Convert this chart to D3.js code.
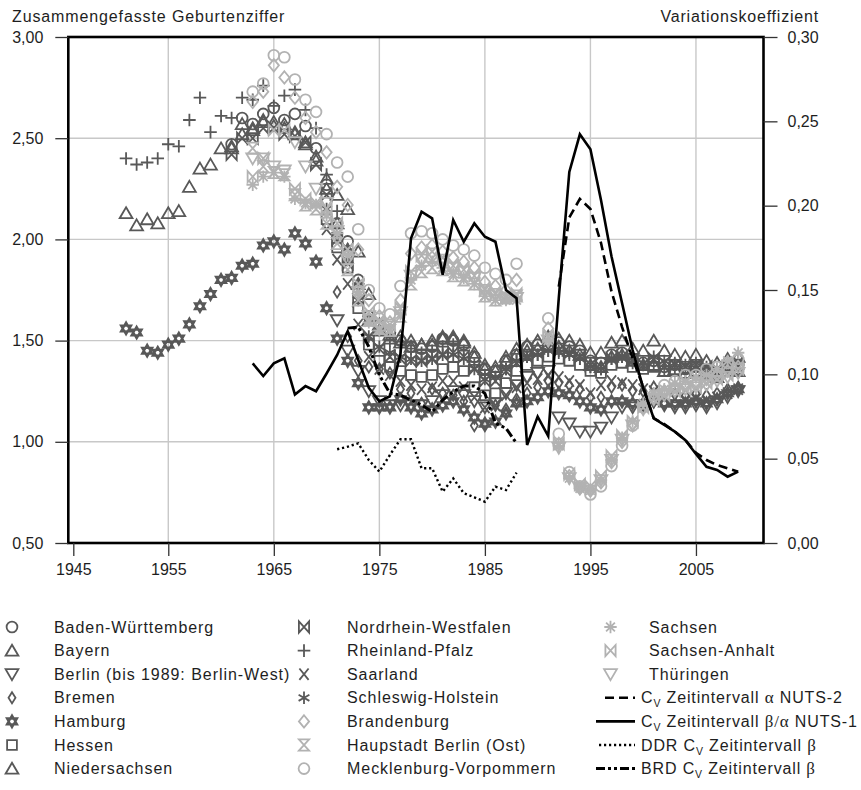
<!DOCTYPE html>
<html lang="de">
<head>
<meta charset="utf-8">
<title>Zusammengefasste Geburtenziffer und Variationskoeffizient</title>
<script src="https://cdn.jsdelivr.net/npm/d3@7/dist/d3.min.js"></script>
<style>
  body { margin: 0; background: #fff; }
  #chart text { font-family: "Liberation Sans", Arial, Helvetica, sans-serif; fill: #1e1e1e; }
</style>
</head>
<body>
<svg id="chart" width="861" height="790"></svg>
<script>
// -------- DATA --------
const xTickYears = [1945, 1955, 1965, 1975, 1985, 1995, 2005];
const tfrTicks = [0.5, 1.0, 1.5, 2.0, 2.5, 3.0];
const cvTicks = [0, 0.05, 0.10, 0.15, 0.20, 0.25, 0.30];

// Zusammengefasste Geburtenziffer, one value per year from the start year (null = no value)
const badenWuerttemberg = [ // from 1961
  2.47, 2.60, 2.57, 2.62, 2.65, 2.59, 2.62, 2.56, 2.45, 2.27,
  2.08, 1.99, 1.80, 1.62, 1.58, 1.54, 1.50, 1.47, 1.46, 1.47,
  1.51, 1.50, 1.48, 1.42, 1.36, 1.35, 1.40, 1.43, 1.47, 1.48,
  1.50, 1.49, 1.47, 1.45, 1.40, 1.39, 1.43, 1.44, 1.41, 1.39,
  1.40, 1.37, 1.38, 1.36, 1.37, 1.36, 1.34, 1.37, 1.38];
const bayern = [ // from 1951
  2.13, 2.07, 2.10, 2.08, 2.13, 2.14, 2.26, 2.35, 2.37, 2.45,
  2.46, 2.57, 2.54, 2.59, 2.58, 2.55, 2.53, 2.48, 2.41, 2.30,
  2.22, 2.15, 1.94, 1.73, 1.58, 1.53, 1.52, 1.50, 1.48, 1.48,
  1.51, 1.51, 1.49, 1.42, 1.36, 1.35, 1.40, 1.43, 1.45, 1.46,
  1.48, 1.47, 1.45, 1.43, 1.38, 1.37, 1.42, 1.43, 1.40, 1.38,
  1.38, 1.35, 1.36, 1.34, 1.35, 1.33, 1.32, 1.35, 1.35];
const berlin = [ // from 1971
  1.60, 1.45, 1.35, 1.25, 1.20, 1.18, 1.18, 1.18, 1.18, 1.20,
  1.23, 1.25, 1.23, 1.20, 1.17, 1.19, 1.24, 1.28, 1.32, 1.34,
  1.35, 1.12, 1.09, 1.05, 1.05, 1.07, 1.12, 1.17, 1.17, 1.18,
  1.20, 1.18, 1.17, 1.17, 1.18, 1.17, 1.19, 1.22, 1.25];
const bremen = [ // from 1971
  1.74, 1.52, 1.40, 1.37, 1.36, 1.34, 1.26, 1.24, 1.19, 1.26,
  1.24, 1.23, 1.20, 1.08, 1.08, 1.18, 1.16, 1.21, 1.24, 1.27,
  1.30, 1.29, 1.28, 1.26, 1.22, 1.22, 1.27, 1.28, 1.25, 1.25,
  1.27, 1.25, 1.24, 1.23, 1.24, 1.23, 1.24, 1.26, 1.27];
const hamburg = [ // from 1951
  1.56, 1.54, 1.45, 1.44, 1.48, 1.51, 1.58, 1.67, 1.73, 1.80,
  1.81, 1.87, 1.88, 1.97, 1.99, 1.95, 2.03, 1.98, 1.89, 1.66,
  1.51, 1.40, 1.29, 1.17, 1.17, 1.17, 1.21, 1.17, 1.14, 1.16,
  1.18, 1.20, 1.16, 1.12, 1.09, 1.10, 1.14, 1.19, 1.20, 1.22,
  1.25, 1.24, 1.23, 1.20, 1.17, 1.16, 1.20, 1.20, 1.19, 1.19,
  1.20, 1.19, 1.19, 1.19, 1.20, 1.19, 1.21, 1.24, 1.26];
const hessen = [ // from 1970
  2.10, 1.96, 1.86, 1.66, 1.48, 1.40, 1.37, 1.35, 1.33, 1.32,
  1.33, 1.36, 1.37, 1.35, 1.27, 1.23, 1.24, 1.29, 1.35, 1.38,
  1.40, 1.42, 1.41, 1.40, 1.38, 1.35, 1.34, 1.38, 1.39, 1.37,
  1.36, 1.37, 1.35, 1.35, 1.34, 1.35, 1.34, 1.33, 1.35, 1.36];
const niedersachsen = [ // from 1961
  2.45, 2.52, 2.55, 2.58, 2.56, 2.57, 2.52, 2.47, 2.39, 2.25,
  2.08, 1.95, 1.78, 1.60, 1.55, 1.51, 1.49, 1.47, 1.48, 1.50,
  1.52, 1.52, 1.50, 1.44, 1.38, 1.37, 1.42, 1.46, 1.48, 1.50,
  1.52, 1.51, 1.50, 1.48, 1.44, 1.44, 1.49, 1.50, 1.46, 1.45,
  1.50, 1.45, 1.43, 1.42, 1.43, 1.40, 1.39, 1.41, 1.42];
const nordrheinWestfalen = [ // from 1961
  2.42, 2.50, 2.50, 2.55, 2.55, 2.52, 2.51, 2.48, 2.37, 2.22,
  2.00, 1.88, 1.70, 1.52, 1.46, 1.42, 1.41, 1.40, 1.40, 1.41,
  1.43, 1.44, 1.42, 1.36, 1.30, 1.30, 1.35, 1.39, 1.42, 1.44,
  1.46, 1.45, 1.44, 1.42, 1.38, 1.37, 1.41, 1.42, 1.40, 1.38,
  1.41, 1.39, 1.38, 1.37, 1.38, 1.37, 1.36, 1.37, 1.38];
const rheinlandPfalz = [ // from 1951
  2.40, 2.37, 2.38, 2.40, 2.47, 2.46, 2.59, 2.70, 2.53, 2.61,
  2.60, 2.70, 2.69, 2.76, 2.66, 2.71, 2.74, 2.64, 2.55, 2.32,
  2.14, 1.95, 1.78, 1.62, 1.55, 1.50, 1.48, 1.46, 1.44, 1.45,
  1.47, 1.48, 1.45, 1.38, 1.33, 1.32, 1.36, 1.40, 1.42, 1.43,
  1.45, 1.45, 1.44, 1.41, 1.37, 1.36, 1.41, 1.42, 1.39, 1.38,
  1.39, 1.36, 1.36, 1.34, 1.35, 1.34, 1.32, 1.35, 1.36];
const saarland = [ // from 1970
  2.05, 1.90, 1.78, 1.58, 1.42, 1.36, 1.33, 1.30, 1.28, 1.26,
  1.27, 1.30, 1.30, 1.27, 1.22, 1.17, 1.18, 1.23, 1.27, 1.29,
  1.31, 1.33, 1.32, 1.30, 1.28, 1.24, 1.28, 1.30, 1.29, 1.28,
  1.26, 1.25, 1.22, 1.21, 1.20, 1.21, 1.20, 1.22, 1.24, 1.26];
const schleswigHolstein = [ // from 1970
  2.15, 2.02, 1.90, 1.70, 1.52, 1.47, 1.44, 1.42, 1.41, 1.40,
  1.41, 1.43, 1.43, 1.41, 1.36, 1.31, 1.32, 1.36, 1.40, 1.42,
  1.43, 1.45, 1.44, 1.43, 1.41, 1.37, 1.36, 1.41, 1.42, 1.40,
  1.39, 1.42, 1.40, 1.39, 1.38, 1.39, 1.37, 1.36, 1.38, 1.40];
const brandenburg = [ // from 1963
  2.68, 2.73, 2.86, 2.80, 2.70, 2.60, 2.53, 2.43,
  2.26, 2.17, 1.95, 1.70, 1.62, 1.59, 1.70, 1.93, 1.96, 1.97,
  1.94, 1.91, 1.89, 1.86, 1.79, 1.77, 1.75, 1.80, null, null,
  1.56, 0.99, 0.83, 0.77, 0.76, 0.80, 0.90, 1.00, 1.09, 1.17,
  1.22, 1.25, 1.27, 1.28, 1.29, 1.31, 1.33, 1.35, 1.37];
const berlinOst = [ // from 1963
  2.45, 2.36, 2.33, 2.32, 2.22, 2.17, 2.15, 2.08,
  1.98, 1.85, 1.70, 1.60, 1.56, 1.55, 1.62, 1.78, 1.84, 1.86,
  1.85, 1.82, 1.80, 1.78, 1.72, 1.70, 1.71, 1.72];
const mecklenburgVorpommern = [ // from 1963
  2.73, 2.77, 2.91, 2.90, 2.79, 2.69, 2.63, 2.52,
  2.38, 2.31, 2.05, 1.75, 1.66, 1.63, 1.77, 2.03, 2.04, 2.03,
  2.00, 1.97, 1.95, 1.92, 1.86, 1.83, 1.80, 1.88, null, null,
  1.61, 1.04, 0.85, 0.78, 0.74, 0.78, 0.88, 0.98, 1.08, 1.17,
  1.23, 1.28, 1.30, 1.33, 1.33, 1.36, 1.37, 1.39, 1.41];
const sachsen = [ // from 1963
  2.27, 2.31, 2.33, 2.31, 2.20, 2.18, 2.17, 2.12,
  2.03, 1.92, 1.74, 1.59, 1.55, 1.55, 1.63, 1.80, 1.87, 1.89,
  1.86, 1.83, 1.81, 1.78, 1.72, 1.70, 1.70, 1.70, null, null,
  1.50, 0.98, 0.82, 0.77, 0.76, 0.81, 0.91, 1.02, 1.10, 1.19,
  1.24, 1.26, 1.29, 1.30, 1.32, 1.33, 1.36, 1.40, 1.44];
const sachsenAnhalt = [ // from 1963
  2.31, 2.40, 2.54, 2.54, 2.25, 2.20, 2.18, 2.15,
  2.08, 1.95, 1.78, 1.64, 1.60, 1.58, 1.66, 1.84, 1.92, 1.94,
  1.91, 1.87, 1.85, 1.82, 1.75, 1.73, 1.72, 1.73, null, null,
  1.52, 0.99, 0.84, 0.79, 0.78, 0.83, 0.93, 1.03, 1.10, 1.17,
  1.21, 1.23, 1.25, 1.26, 1.27, 1.29, 1.31, 1.33, 1.36];
const thueringen = [ // from 1963
  2.40, 2.40, 2.36, 2.34, 2.48, 2.36, 2.25, 2.18,
  2.04, 1.90, 1.74, 1.62, 1.58, 1.57, 1.64, 1.82, 1.90, 1.93,
  1.90, 1.86, 1.84, 1.81, 1.75, 1.73, 1.71, 1.71, null, null,
  1.50, 0.97, 0.82, 0.77, 0.76, 0.81, 0.91, 1.01, 1.08, 1.16,
  1.21, 1.23, 1.25, 1.26, 1.27, 1.28, 1.30, 1.32, 1.34];

// Variationskoeffizient (right axis)
const cvAlphaNuts2 = [ // from 1992
  0.152, 0.193, 0.204, 0.198, 0.178, 0.149, 0.128, 0.1095, 0.0925,
  0.074, 0.0705, 0.066, 0.061, 0.0535, 0.0492, 0.0462, 0.0443, 0.0423];
const cvBetaAlphaNuts1 = [ // from 1963
  0.1065, 0.099, 0.1065, 0.1095, 0.088, 0.093, 0.090, 0.1005,
  0.1115, 0.1255, 0.1085, 0.092, 0.084, 0.087, 0.112, 0.1806, 0.1964, 0.1925,
  0.159, 0.1915, 0.1786, 0.1895, 0.1816, 0.1786, 0.150, 0.1451, 0.0581, 0.0749,
  0.0634, 0.145, 0.220, 0.2423, 0.2334, 0.2034, 0.1698, 0.1421, 0.1144, 0.0919,
  0.0739, 0.070, 0.066, 0.061, 0.0528, 0.0452, 0.0433, 0.0393, 0.0423];
const cvDdr = [ // from 1971
  0.0556, 0.0571, 0.0591, 0.0492, 0.0423, 0.0522, 0.0615, 0.0615, 0.0443, 0.0443,
  0.0304, 0.0383, 0.0295, 0.0271, 0.0245, 0.0334, 0.0314, 0.0417];
const cvBrd = [ // from 1972
  0.1274, 0.128, 0.1164, 0.0996, 0.0887, 0.0877, 0.0848, 0.0818, 0.0778,
  0.0848, 0.0897, 0.0931, 0.0931, 0.0887, 0.071, 0.068, 0.0591];

const states = [
  { name: "Baden-Württemberg", start: 1961, values: badenWuerttemberg, shape: "circle", tone: "dark" },
  { name: "Bayern", start: 1951, values: bayern, shape: "triangleUp", tone: "dark" },
  { name: "Berlin (bis 1989: Berlin-West)", start: 1971, values: berlin, shape: "triangleDown", tone: "dark" },
  { name: "Bremen", start: 1971, values: bremen, shape: "diamondSmall", tone: "dark" },
  { name: "Hamburg", start: 1951, values: hamburg, shape: "hexagram", tone: "dark" },
  { name: "Hessen", start: 1970, values: hessen, shape: "square", tone: "dark" },
  { name: "Niedersachsen", start: 1961, values: niedersachsen, shape: "triangleUp", tone: "dark" },
  { name: "Nordrhein-Westfalen", start: 1961, values: nordrheinWestfalen, shape: "bowtie", tone: "dark" },
  { name: "Rheinland-Pfalz", start: 1951, values: rheinlandPfalz, shape: "plus", tone: "dark" },
  { name: "Saarland", start: 1970, values: saarland, shape: "cross", tone: "dark" },
  { name: "Schleswig-Holstein", start: 1970, values: schleswigHolstein, shape: "asterisk", tone: "dark" },
  { name: "Brandenburg", start: 1963, values: brandenburg, shape: "diamond", tone: "light" },
  { name: "Haupstadt Berlin (Ost)", start: 1963, values: berlinOst, shape: "hourglass", tone: "light" },
  { name: "Mecklenburg-Vorpommern", start: 1963, values: mecklenburgVorpommern, shape: "circle", tone: "light" },
  { name: "Sachsen", start: 1963, values: sachsen, shape: "asterisk8", tone: "light" },
  { name: "Sachsen-Anhalt", start: 1963, values: sachsenAnhalt, shape: "bowtie", tone: "light" },
  { name: "Thüringen", start: 1963, values: thueringen, shape: "triangleDown", tone: "light" }
];

const cvLines = [
  { label: [["C"], ["V", "sub"], [" Zeitintervall "], ["α", "greek"], [" NUTS-2"]],
    start: 1992, values: cvAlphaNuts2, dash: "9,5", width: 2.6, sampleX: 605 },
  { label: [["C"], ["V", "sub"], [" Zeitintervall "], ["β/α", "greek"], [" NUTS-1"]],
    start: 1963, values: cvBetaAlphaNuts1, dash: null, width: 2.6, sampleX: 596 },
  { label: [["DDR C"], ["V", "sub"], [" Zeitintervall "], ["β", "greek"]],
    start: 1971, values: cvDdr, dash: "2.2,2.8", width: 2.4, sampleX: 599 },
  { label: [["BRD C"], ["V", "sub"], [" Zeitintervall "], ["β", "greek"]],
    start: 1972, values: cvBrd, dash: "9,3,3,3,3,3", width: 3, sampleX: 596 }
];

// -------- LAYOUT --------
const frame = { left: 68.3, right: 763.5, top: 37, bottom: 543 };
const tone = { dark: "#585858", light: "#b2b2b2" };
const fmt = v => d3.format(".2f")(v).replace(".", ",");

const svg = d3.select("#chart");

const x = d3.scaleLinear().domain([1946, 2011.4]).range([73.3, frame.right]).clamp(true);
const yL = d3.scaleLinear().domain([0.5, 3]).range([frame.bottom, frame.top]);
const yR = d3.scaleLinear().domain([0, 0.3]).range([frame.bottom, frame.top]);

function toPoints(start, values) {
  return values.map((v, i) => ({ year: start + i, v })).filter(d => d.v != null);
}

function symbolPath(shape) {
  switch (shape) {
    case "circle": { const r = 5.4; return `M${r},0A${r},${r} 0 1,1 ${-r},0A${r},${r} 0 1,1 ${r},0Z`; }
    case "triangleUp": return "M0,-5.9L6.4,5.1L-6.4,5.1Z";
    case "triangleDown": return "M0,5.9L6.4,-5.1L-6.4,-5.1Z";
    case "diamondSmall": return "M0,-5.6L3.5,0L0,5.6L-3.5,0Z";
    case "diamond": return "M0,-6.2L5.1,0L0,6.2L-5.1,0Z";
    case "square": return "M-4.9,-4.9H4.9V4.9H-4.9Z";
    case "plus": return "M-6.3,0H6.3M0,-6.3V6.3";
    case "cross": return "M-4.6,-5.7L4.6,5.7M4.6,-5.7L-4.6,5.7";
    case "asterisk": return "M0,-6.2V6.2M-5.4,-3.1L5.4,3.1M5.4,-3.1L-5.4,3.1";
    case "asterisk8": return "M0,-6.2V6.2M-6.2,0H6.2M-4.4,-4.4L4.4,4.4M4.4,-4.4L-4.4,4.4";
    case "bowtie": return "M-5.1,-5.6L5.1,5.6V-5.6L-5.1,5.6Z";
    case "hourglass": return "M-5.1,-5.6H5.1L-5.1,5.6H5.1Z";
    case "hexagram": return "M0,-5.8L5,2.9H-5Z M0,5.8L5,-2.9H-5Z";
  }
}

const strokeFor = shape => (shape === "hexagram" ? 2.3 : 1.8);

// -------- GRID --------
const grid = svg.append("g").attr("stroke", "#c8c8c8").attr("stroke-width", 1.4);
grid.selectAll("line.v")
  .data(xTickYears.slice(1))
  .enter().append("line")
  .attr("x1", d => x(d)).attr("x2", d => x(d))
  .attr("y1", frame.top).attr("y2", frame.bottom);
grid.selectAll("line.h")
  .data(tfrTicks.slice(1, -1))
  .enter().append("line")
  .attr("x1", frame.left).attr("x2", frame.right)
  .attr("y1", d => yL(d)).attr("y2", d => yL(d));

// -------- MARKERS --------
const markers = svg.append("g").attr("fill", "none");
states.forEach(s => {
  markers.append("g")
    .attr("stroke", tone[s.tone])
    .attr("stroke-width", strokeFor(s.shape))
    .selectAll("path")
    .data(toPoints(s.start, s.values))
    .enter().append("path")
    .attr("d", symbolPath(s.shape))
    .attr("transform", d => `translate(${x(d.year)},${yL(d.v)})`);
});

// -------- CV LINES --------
const line = d3.line().x(d => x(d.year)).y(d => yR(d.v));
cvLines.forEach(l => {
  svg.append("path")
    .datum(toPoints(l.start, l.values))
    .attr("d", line)
    .attr("fill", "none")
    .attr("stroke", "#000")
    .attr("stroke-width", l.width)
    .attr("stroke-dasharray", l.dash);
});

// -------- AXES --------
svg.append("rect")
  .attr("x", frame.left).attr("y", frame.top)
  .attr("width", frame.right - frame.left).attr("height", frame.bottom - frame.top)
  .attr("fill", "none").attr("stroke", "#000").attr("stroke-width", 2.6);

function styleAxis(g) {
  g.select(".domain").remove();
  g.selectAll(".tick line").attr("stroke", "#333").attr("stroke-width", 1.3);
  g.selectAll(".tick text").attr("font-size", 16).attr("fill", "#1e1e1e")
    .attr("font-family", "'Liberation Sans', Arial, sans-serif");
}

svg.append("g")
  .attr("transform", `translate(${frame.left},0)`)
  .call(d3.axisLeft(yL).tickValues(tfrTicks).tickSize(13).tickPadding(12).tickFormat(fmt))
  .call(styleAxis);

svg.append("g")
  .attr("transform", `translate(${frame.right},0)`)
  .call(d3.axisRight(yR).tickValues(cvTicks).tickSize(14).tickPadding(10).tickFormat(fmt))
  .call(styleAxis);

svg.append("g")
  .attr("transform", `translate(0,${frame.bottom})`)
  .call(d3.axisBottom(x).tickValues(xTickYears).tickSize(13).tickPadding(8).tickFormat(d3.format("d")))
  .call(styleAxis);

svg.append("text")
  .attr("x", 12).attr("y", 21.5)
  .attr("font-size", 16).attr("letter-spacing", 0.88)
  .text("Zusammengefasste Geburtenziffer");

svg.append("text")
  .attr("x", 819).attr("y", 21.5)
  .attr("text-anchor", "end")
  .attr("font-size", 16).attr("letter-spacing", 0.8)
  .text("Variationskoeffizient");

// -------- LEGEND --------
const legendRowY = i => 627 + i * 23.6;
const legendCols = [
  { symbolX: 12, textX: 54, items: states.slice(0, 7) },
  { symbolX: 304, textX: 347, items: states.slice(7, 14) },
  { symbolX: 610.5, textX: 649, items: states.slice(14) }
];

const legend = svg.append("g").attr("class", "legend");

legendCols.forEach(col => {
  col.items.forEach((s, i) => {
    const cy = legendRowY(i);
    legend.append("path")
      .attr("d", symbolPath(s.shape))
      .attr("transform", `translate(${col.symbolX},${cy})`)
      .attr("fill", "none")
      .attr("stroke", tone[s.tone])
      .attr("stroke-width", strokeFor(s.shape));
    legend.append("text")
      .attr("x", col.textX).attr("y", cy + 5.6)
      .attr("font-size", 16).attr("letter-spacing", 0.95)
      .text(s.name);
  });
});

cvLines.forEach((l, j) => {
  const cy = legendRowY(3 + j);
  legend.append("line")
    .attr("x1", l.sampleX).attr("x2", 635)
    .attr("y1", cy).attr("y2", cy)
    .attr("stroke", "#000")
    .attr("stroke-width", l.width)
    .attr("stroke-dasharray", l.dash);
  const t = legend.append("text")
    .attr("x", 641).attr("y", cy + 5.6)
    .attr("font-size", 16).attr("letter-spacing", 0.85);
  let shifted = false;
  l.label.forEach(([str, kind]) => {
    const span = t.append("tspan").text(str);
    if (kind === "sub") {
      span.attr("font-size", 10.5).attr("dy", 4);
      shifted = true;
    } else if (shifted) {
      span.attr("dy", -4);
      shifted = false;
    }
    if (kind === "greek") span.attr("font-family", "'Liberation Serif', 'DejaVu Serif', serif").attr("font-size", 17);
  });
});
</script>
</body>
</html>
